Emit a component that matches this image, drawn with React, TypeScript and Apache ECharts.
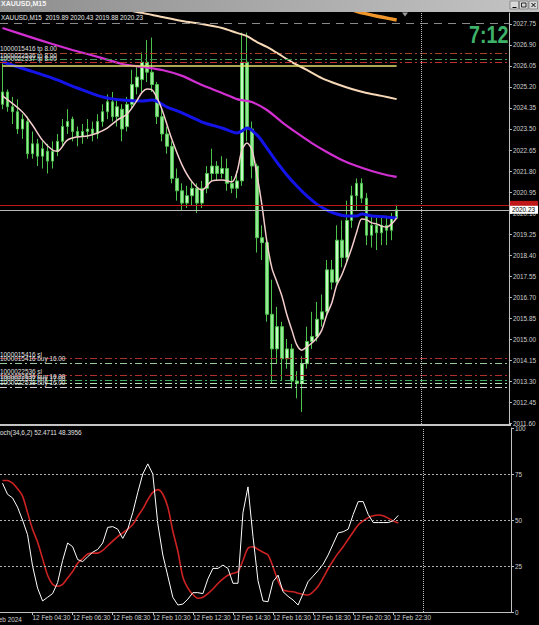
import React, { useEffect, useRef } from "react";
import * as echarts from "echarts";

// ---------- DATA ----------
const startMinutes = 3 * 60; // first visible bar: 12 Feb 03:00, M15
const slotCount = 102;
const categories: string[] = [];
for (let i = 0; i < slotCount; i++) {
  const m = startMinutes + i * 15;
  const day = 12 + Math.floor(m / 1440);
  const mm = m % 1440;
  categories.push(
    `${day} Feb ${String(Math.floor(mm / 60)).padStart(2, "0")}:${String(mm % 60).padStart(2, "0")}`
  );
}
const timeTickLabels = [
  "12 Feb 04:30", "12 Feb 06:30", "12 Feb 08:30", "12 Feb 10:30", "12 Feb 12:30",
  "12 Feb 14:30", "12 Feb 16:30", "12 Feb 18:30", "12 Feb 20:30", "12 Feb 22:30",
];
const separatorTime = "13 Feb 00:00";

const priceTicks = [
  2011.6, 2012.45, 2013.3, 2014.15, 2015.0, 2015.85, 2016.7, 2017.55, 2018.4, 2019.25,
  2020.1, 2020.95, 2021.8, 2022.65, 2023.5, 2024.35, 2025.2, 2026.05, 2026.9, 2027.75,
];
const stochTicks = [0, 25, 50, 75, 100];
const stochLevels = [25, 50, 75];

const openP = [
  2024.5, 2025.0, 2024.4, 2024.2, 2023.5, 2023.8, 2022.5, 2022.9, 2022.4, 2022.6,
  2022.2, 2022.6, 2023.0, 2023.6, 2023.9, 2023.4, 2023.2, 2023.4, 2023.5, 2023.3,
  2023.8, 2024.2, 2024.6, 2024.0, 2024.3, 2023.6, 2024.5, 2025.2, 2025.5, 2026.2,
  2025.8, 2025.3, 2024.0, 2023.3, 2022.8, 2021.5, 2021.0, 2020.5, 2020.8, 2021.1,
  2020.5, 2021.1, 2021.7, 2022.0, 2021.7, 2021.9, 2021.3, 2021.1, 2021.4, 2026.2,
  2023.5, 2022.0, 2019.1, 2018.9, 2016.0, 2014.6, 2015.5, 2014.2, 2014.6, 2013.3,
  2013.2, 2014.0, 2014.9, 2015.1, 2015.8, 2016.1, 2017.8, 2017.3, 2019.0, 2018.3,
  2019.8, 2020.8, 2021.3, 2020.7, 2019.2, 2019.6, 2019.3, 2019.6, 2019.4, 2019.89,
];
const highP = [
  2026.2, 2025.1, 2024.8, 2024.7, 2024.1, 2024.0, 2023.4, 2023.1, 2023.0, 2022.9,
  2023.0, 2023.3, 2023.9, 2024.3, 2024.0, 2023.6, 2023.7, 2023.9, 2023.8, 2024.1,
  2024.5, 2024.9, 2025.0, 2024.7, 2024.5, 2024.8, 2025.9, 2026.0, 2026.6, 2027.1,
  2027.2, 2025.4, 2024.3, 2023.6, 2023.0, 2021.9, 2021.3, 2021.2, 2021.4, 2021.3,
  2021.4, 2022.0, 2022.7, 2022.2, 2022.4, 2022.3, 2021.6, 2021.8, 2027.4, 2027.4,
  2023.8, 2022.1, 2019.6, 2019.0, 2017.4, 2016.3, 2015.7, 2015.0, 2014.8, 2013.7,
  2014.3, 2015.5, 2016.1, 2016.5, 2016.8, 2018.2, 2018.2, 2019.6, 2019.8, 2020.6,
  2021.2, 2021.5, 2021.5, 2020.9, 2020.0, 2019.9, 2020.0, 2019.9, 2020.1, 2020.43,
];
const lowP = [
  2024.3, 2024.2, 2023.7, 2023.3, 2023.1, 2022.3, 2022.3, 2022.0, 2021.9, 2021.7,
  2021.9, 2022.4, 2022.8, 2023.3, 2023.0, 2022.8, 2022.9, 2023.1, 2023.0, 2023.1,
  2023.6, 2023.9, 2023.8, 2023.6, 2023.0, 2023.4, 2024.3, 2024.9, 2025.0, 2025.4,
  2025.0, 2023.7, 2023.0, 2022.5, 2021.3, 2020.6, 2020.2, 2020.3, 2020.4, 2020.1,
  2020.3, 2020.9, 2021.4, 2021.4, 2021.5, 2021.0, 2020.9, 2020.7, 2021.2, 2023.0,
  2021.5, 2018.5, 2018.2, 2015.7, 2013.2, 2014.0, 2013.3, 2013.8, 2013.0, 2012.6,
  2012.05, 2013.8, 2014.6, 2014.9, 2015.5, 2015.9, 2017.0, 2017.1, 2017.9, 2018.1,
  2019.5, 2020.2, 2020.5, 2018.8, 2018.7, 2018.6, 2018.8, 2018.8, 2019.0, 2019.88,
];
const closeP = [
  2025.0, 2024.4, 2024.2, 2023.5, 2023.9, 2022.5, 2022.9, 2022.4, 2022.7, 2022.2,
  2022.6, 2023.0, 2023.6, 2023.8, 2023.4, 2023.2, 2023.4, 2023.5, 2023.3, 2023.8,
  2024.2, 2024.6, 2024.0, 2024.4, 2023.5, 2024.5, 2025.3, 2025.6, 2026.2, 2025.8,
  2025.3, 2024.0, 2023.3, 2022.8, 2021.5, 2021.0, 2020.5, 2020.8, 2021.1, 2020.5,
  2021.1, 2021.7, 2022.0, 2021.7, 2021.9, 2021.3, 2021.1, 2021.4, 2026.2, 2023.5,
  2022.0, 2019.1, 2018.9, 2016.0, 2014.6, 2015.5, 2014.2, 2014.6, 2013.3, 2013.2,
  2014.0, 2014.9, 2015.1, 2015.8, 2016.1, 2017.8, 2017.3, 2019.0, 2018.3, 2019.8,
  2020.8, 2021.3, 2020.7, 2019.2, 2019.6, 2019.3, 2019.6, 2019.4, 2019.89, 2020.23,
];

// moving averages: [bar index, price]
const maFast = [
  [0, 2024.84], [4, 2024.19], [6, 2023.66], [8, 2023.05], [10, 2022.65], [11, 2022.6],
  [13, 2023.05], [15, 2023.18], [17, 2023.22], [19, 2023.34], [21, 2023.54], [23, 2023.86],
  [25, 2024.11], [27, 2024.67], [28, 2024.99], [29, 2025.12], [30, 2025.08], [31, 2024.75],
  [32, 2024.27], [34, 2023.05], [36, 2022.04], [38, 2021.36], [40, 2021.03], [42, 2021.4],
  [44, 2021.44], [46, 2021.36], [47, 2021.76], [48, 2022.65], [49, 2022.93], [50, 2022.65],
  [51, 2021.64], [52, 2020.42], [53, 2018.93], [54, 2017.87], [55, 2017.31], [56, 2016.74],
  [57, 2015.98], [58, 2015.36], [59, 2014.76], [60, 2014.55], [61, 2014.68], [62, 2014.84],
  [63, 2015.04], [64, 2015.36], [65, 2015.98], [66, 2016.46], [67, 2017.19], [68, 2017.59],
  [69, 2018.12], [70, 2018.68], [71, 2019.33], [72, 2019.86], [73, 2019.82], [74, 2019.7],
  [75, 2019.66], [76, 2019.57], [77, 2019.53], [78, 2019.66], [79, 2019.9],
];
const maBlue = [
  [0, 2026.21], [5, 2025.89], [10, 2025.56], [15, 2025.16], [20, 2024.8], [24, 2024.67],
  [28, 2024.63], [30, 2024.67], [33, 2024.39], [36, 2024.15], [40, 2023.78], [44, 2023.54],
  [47, 2023.34], [48, 2023.42], [49, 2023.54], [51, 2023.26], [53, 2022.73], [55, 2022.16],
  [57, 2021.64], [59, 2021.19], [61, 2020.79], [63, 2020.46], [65, 2020.22], [67, 2020.06],
  [69, 2019.98], [71, 2019.98], [72, 2020.06], [74, 2019.98], [77, 2019.94], [79, 2019.9],
];
const maMagenta = [
  [0, 2027.59], [5, 2027.26], [10, 2026.94], [14, 2026.7], [20, 2026.37], [24, 2026.13],
  [28, 2026.01], [32, 2025.89], [36, 2025.65], [40, 2025.28], [44, 2024.96], [47, 2024.71],
  [48, 2024.67], [50, 2024.59], [53, 2024.27], [56, 2023.78], [59, 2023.34], [62, 2022.93],
  [65, 2022.57], [68, 2022.25], [71, 2022.0], [74, 2021.8], [77, 2021.64], [79, 2021.56],
];
const maPeach = [
  [22, 2028.5], [26, 2028.27], [28, 2028.2], [32, 2028.03], [36, 2027.87], [40, 2027.75],
  [44, 2027.59], [47, 2027.39], [49, 2027.26], [51, 2027.02], [53, 2026.82], [55, 2026.58],
  [58, 2026.21], [61, 2025.89], [64, 2025.56], [67, 2025.32], [70, 2025.12], [73, 2024.96],
  [76, 2024.84], [79, 2024.71],
];
const maOrange = [
  [62, 2028.7], [66, 2028.5], [70, 2028.32], [72, 2028.2], [76, 2028.03], [79, 2027.91],
];

const stochMain = [
  70, 64, 62, 57, 50, 42, 25, 13, 6, 8,
  10, 16, 28, 37.5, 35.5, 28.5, 27.4, 30, 32.5, 34,
  37.5, 46, 46.4, 45, 40, 45, 54, 65, 75, 80.5,
  75, 48, 31, 19.5, 8, 3.8, 4.3, 7, 10.5, 10.5,
  10, 18, 23.7, 23.7, 25.5, 23.7, 15.6, 15.6, 54, 68,
  41, 17, 6, 5.6, 16.5, 20, 11, 8.5, 6.5, 3.8,
  10, 16.5, 19.5, 22.5, 26, 31, 37, 43, 43.6, 45,
  53, 60, 60, 53, 48.6, 48.6, 48.6, 48.6, 49.6, 52.47,
];
const stochSignal = [
  71.5, 71.5, 70, 67, 63, 54, 45, 38, 29, 20,
  15, 14, 15, 18.5, 22, 26.5, 29, 31.5, 32, 32,
  33.5, 36, 38.5, 41, 43, 45, 47.5, 52, 56, 61,
  65, 66.5, 64, 57, 44, 33, 19, 13, 9.5, 7.5,
  8, 10, 12.5, 15.5, 18, 20, 21, 22, 28, 34.6,
  35.5, 34, 32.5, 31, 24.5, 17, 12, 11.3, 11, 10.2,
  9.6, 9.2, 11, 14, 18.5, 23.5, 28, 32, 35.5, 39.5,
  43.5, 47.3, 49.5, 51.3, 52.3, 52.7, 52.3, 51, 49.5, 48.4,
];

const tradeLevels = [2026.58, 2026.33, 2026.21, 2014.23, 2014.03, 2013.54, 2013.34, 2013.22, 2013.06];
const tradeLabels = [
  "1000015416 tp 8.00", "1000022536 tp 8.00", "1000022537 tp 8.00",
  "1000015416 sl", "1000015416 buy 16.00", "1000022536 sl",
  "1000022536 buy 16.00", "1000022537 buy 17.00", "1000022538 buy 16.00",
];
const tradeColors = ["#a8432a", "#3f9a5a", "#c03030", "#a83030", "#9cc89c", "#b03030", "#3cb060", "#b8e0b8", "#d0d0d0"];

const bidPrice = 2020.23;
const askPrice = 2020.43;
const highLinePrice = 2027.78;
const yellowLinePrice = 2026.05;
const headerText = "XAUUSD,M15  2019.89 2020.43 2019.88 2020.23";
const stochText = "Stoch(34,6,2) 52.4711 48.3956";
const countdown = "7:12";

// ---------- CHART ----------
const FONT = "'Liberation Sans', Arial, sans-serif";
const AX = "#d0d0d0";
const FS = 6.4;

export default function App() {
  const ref = useRef<HTMLDivElement>(null);
  useEffect(() => {
    document.body.style.margin = "0";
    const chart = echarts.init(ref.current!, null, { renderer: "svg" });
    const candles = openP.map((o, i) => [o, closeP[i], lowP[i], highP[i]]);
    const isTick = (_i: number, v: string) => timeTickLabels.includes(v);

    const tradeLines = tradeLevels.map((p, i) => ({
      yAxis: p,
      lineStyle: { color: tradeColors[i], type: [7, 3, 2, 3], width: 1 },
      label: {
        show: true,
        position: "insideStartTop",
        formatter: tradeLabels[i],
        color: "#e0e0e0",
        fontSize: FS,
        fontFamily: FONT,
        distance: [0, 1],
      },
    }));

    const option: any = {
      animation: false,
      backgroundColor: "#000",
      textStyle: { fontFamily: FONT },
      grid: [
        { left: 0, top: 13, width: 511, height: 411 },
        { left: 0, top: 428, width: 511, height: 184 },
      ],
      xAxis: [
        {
          type: "category", gridIndex: 0, data: categories, boundaryGap: true,
          axisLine: { show: false }, axisTick: { show: false }, axisLabel: { show: false },
          splitLine: { show: false },
        },
        {
          type: "category", gridIndex: 1, data: categories, boundaryGap: true,
          axisLine: { show: true, lineStyle: { color: "#c0c0c0", width: 1 } },
          axisTick: { show: true, alignWithLabel: true, interval: isTick, length: 3, lineStyle: { color: "#c0c0c0" } },
          axisLabel: {
            show: true, interval: isTick, align: "left", color: AX, fontSize: FS, fontFamily: FONT, margin: 2,
          },
          splitLine: { show: false },
        },
      ],
      yAxis: [
        {
          type: "value", gridIndex: 0, position: "right", min: 2011.56, max: 2028.195,
          axisLine: { show: true, lineStyle: { color: "#c0c0c0" } },
          axisTick: { show: true, length: 3, customValues: priceTicks, lineStyle: { color: "#c0c0c0" } },
          axisLabel: {
            show: true, customValues: priceTicks, formatter: (v: number) => v.toFixed(2),
            color: AX, fontSize: FS, fontFamily: FONT, margin: 4,
          },
          splitLine: { show: false },
        },
        {
          type: "value", gridIndex: 1, position: "right", min: 0, max: 100,
          axisLine: { show: true, lineStyle: { color: "#c0c0c0" } },
          axisTick: { show: true, length: 3, customValues: stochTicks, lineStyle: { color: "#c0c0c0" } },
          axisLabel: {
            show: true, customValues: stochTicks, formatter: (v: number) => String(v),
            color: AX, fontSize: FS, fontFamily: FONT, margin: 4,
          },
          splitLine: { show: false },
        },
      ],
      series: [
        {
          type: "candlestick", xAxisIndex: 0, yAxisIndex: 0, data: candles, barWidth: 3,
          itemStyle: { color: "#c8f7c8", color0: "#98e498", borderColor: "#4cc44c", borderColor0: "#4cc44c", borderWidth: 1 },
          markLine: {
            silent: true, symbol: "none", animation: false,
            data: [
              { yAxis: highLinePrice, lineStyle: { color: "#8a8a8a", type: [8, 6], width: 1 }, label: { show: false } },
              ...tradeLines,
              [
                { coord: [0, yellowLinePrice], lineStyle: { color: "#e6df70", type: "solid", width: 1.5 }, label: { show: false } },
                { coord: [79, yellowLinePrice] },
              ],
              { xAxis: separatorTime, lineStyle: { color: "#c0c0c0", type: "dotted", width: 1 }, label: { show: false } },
              {
                yAxis: askPrice, lineStyle: { color: "#c01818", type: "solid", width: 1 },
                label: { show: true, position: "end", formatter: " ", backgroundColor: "#c01818", width: 24, height: 6, fontSize: FS, padding: [1, 2, 1, 2], distance: 1 },
              },
              {
                yAxis: bidPrice, lineStyle: { color: "#b8b8b8", type: "solid", width: 1 },
                label: { show: true, position: "end", formatter: "2020.23", color: "#000", backgroundColor: "#ffffff", fontSize: FS, padding: [1, 3, 1, 2], distance: 1 },
              },
            ],
          },
          z: 2,
        },
        { type: "line", xAxisIndex: 0, yAxisIndex: 0, data: maOrange, showSymbol: false, smooth: 0.3, lineStyle: { color: "#f0962a", width: 3.5 }, z: 3 },
        { type: "line", xAxisIndex: 0, yAxisIndex: 0, data: maPeach, showSymbol: false, smooth: 0.3, lineStyle: { color: "#f7d9b8", width: 2 }, z: 3 },
        { type: "line", xAxisIndex: 0, yAxisIndex: 0, data: maMagenta, showSymbol: false, smooth: 0.3, lineStyle: { color: "#d22fd2", width: 2.2 }, z: 3 },
        { type: "line", xAxisIndex: 0, yAxisIndex: 0, data: maBlue, showSymbol: false, smooth: 0.3, lineStyle: { color: "#1414e8", width: 3 }, z: 3 },
        { type: "line", xAxisIndex: 0, yAxisIndex: 0, data: maFast, showSymbol: false, smooth: 0.3, lineStyle: { color: "#f5cccc", width: 1.5 }, z: 4 },
        {
          type: "line", xAxisIndex: 1, yAxisIndex: 1, data: stochMain, showSymbol: false,
          lineStyle: { color: "#ffffff", width: 1 }, z: 4,
          markLine: {
            silent: true, symbol: "none", animation: false,
            data: [
              ...stochLevels.map((l) => ({ yAxis: l, lineStyle: { color: "#b0b0b0", type: [2, 2], width: 1 }, label: { show: false } })),
              { xAxis: separatorTime, lineStyle: { color: "#c0c0c0", type: "dotted", width: 1 }, label: { show: false } },
            ],
          },
        },
        { type: "line", xAxisIndex: 1, yAxisIndex: 1, data: stochSignal, showSymbol: false, smooth: 0.3, lineStyle: { color: "#cc2222", width: 1.6 }, z: 3 },
      ],
      graphic: [
        {
          type: "rect", z: 100, shape: { x: 0, y: 0, width: 539, height: 12 },
          style: {
            fill: new echarts.graphic.LinearGradient(0, 0, 1, 0, [
              { offset: 0, color: "#8e8e8e" }, { offset: 1, color: "#c4c4c4" },
            ]),
          },
        },
        { type: "text", z: 101, x: 1, y: 0, style: { text: "XAUUSD,M15", fill: "#f4f4f4", font: `bold 7px ${FONT}`, textVerticalAlign: "top" } },
        ...[0, 1, 2].map((k) => ({
          type: "rect", z: 101, shape: { x: 510 + k * 9.5, y: 1, width: 8.5, height: 8 },
          style: { fill: "#d8d8d8", stroke: "#707070", lineWidth: 0.7 },
        })),
        { type: "line", z: 102, shape: { x1: 512.5, y1: 7.5, x2: 516.5, y2: 7.5 }, style: { stroke: "#000", lineWidth: 1 } },
        { type: "rect", z: 102, shape: { x: 521.5, y: 3, width: 4.5, height: 4 }, style: { fill: "none", stroke: "#000", lineWidth: 0.8 } },
        { type: "line", z: 102, shape: { x1: 531.5, y1: 3, x2: 535.5, y2: 7 }, style: { stroke: "#000", lineWidth: 1 } },
        { type: "line", z: 102, shape: { x1: 535.5, y1: 3, x2: 531.5, y2: 7 }, style: { stroke: "#000", lineWidth: 1 } },
        { type: "text", z: 100, x: 1, y: 14, style: { text: headerText, fill: "#e8e8e8", font: `${FS}px ${FONT}`, textVerticalAlign: "top" } },
        { type: "polygon", z: 100, shape: { points: [[402, 12.5], [408, 12.5], [405, 16.5]] }, style: { fill: "#9a9a9a" } },
        { type: "text", z: 100, x: 469, y: 23, scaleX: 0.82, style: { text: countdown, fill: "#3fb26a", font: `bold 24px ${FONT}`, textVerticalAlign: "top" } },
        { type: "rect", z: 100, shape: { x: 0, y: 424, width: 511, height: 2 }, style: { fill: "#c4c4c4" } },
        { type: "text", z: 100, x: -6, y: 429, style: { text: stochText, fill: "#e0e0e0", font: `${FS}px ${FONT}`, textVerticalAlign: "top" } },
        { type: "text", z: 100, x: -14, y: 616, style: { text: "12 Feb 2024", fill: AX, font: `${FS}px ${FONT}`, textVerticalAlign: "top" } },
      ],
    };
    chart.setOption(option);
    return () => chart.dispose();
  }, []);
  return <div ref={ref} style={{ position: "absolute", left: 0, top: 0, width: 539, height: 625, background: "#000" }} />;
}
